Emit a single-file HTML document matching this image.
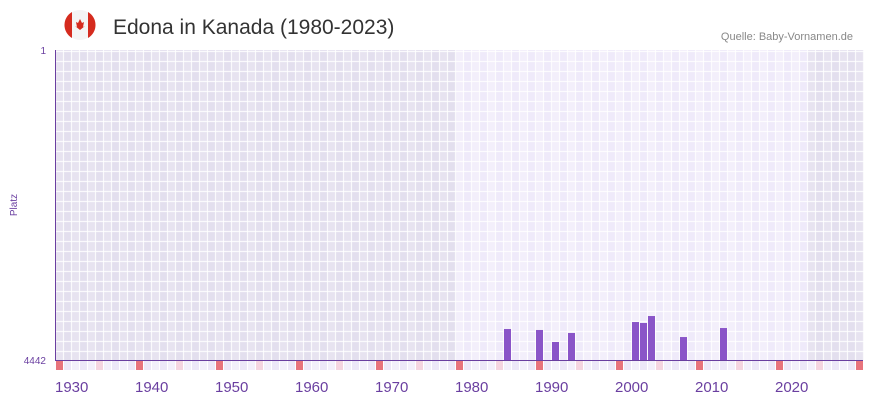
<!DOCTYPE html>
<html><head><meta charset="utf-8"><style>
body{margin:0;background:#fff;font-family:"Liberation Sans",sans-serif}
svg{display:block}
</style></head><body>
<svg width="873" height="402" id="c">
<g>
<circle cx="80" cy="25" r="15" fill="#f4f4f4"/>
<path d="M72 12 A15 15 0 0 0 72 38 Z" fill="#d52b1e"/>
<path d="M88 12 A15 15 0 0 1 88 38 Z" fill="#d52b1e"/>
<path d="M80 19 l2 4 2-1-1 5 2-1 -5 4 -5-4 2 1 -1-5 2 1z" fill="#d52b1e"/>
</g>
<text x="113" y="34" font-size="21" fill="#333">Edona in Kanada (1980-2023)</text>
<text x="853" y="40" font-size="11" fill="#888" text-anchor="end">Quelle: Baby-Vornamen.de</text>
<text transform="translate(17,205) rotate(-90)" font-size="10" fill="#6a3fa0" text-anchor="middle">Platz</text>
<g id="bg"></g><g id="grid"></g><g id="strip"></g><g id="bars"></g><g id="xt"></g>
<line x1="55.5" y1="50" x2="55.5" y2="360" stroke="#6a3fa0"/>
<line x1="55" y1="360.5" x2="863" y2="360.5" stroke="#6a3fa0"/>
<text x="46" y="54" font-size="10" fill="#6a3fa0" text-anchor="end">1</text>
<text x="46" y="364" font-size="10" fill="#6a3fa0" text-anchor="end">4442</text>
</svg>
<script>
const years=[1986,1990,1992,1994,2002,2003,2004,2008,2013];
const ranks=[3998,4012,4184,4055,3898,3912,3812,4113,3984];
const tickYears=[1930,1940,1950,1960,1970,1980,1990,2000,2010,2020];
const yearStart=1930,yearEnd=2030,dataStart=1980,dataEnd=2023,rankMin=1,rankMax=4442;
const X0=56,CW=8,Y0=50,Y1=360;
const xs=y=>X0+(y-yearStart)*CW;
const ys=r=>Y0+(r-rankMin)/(rankMax-rankMin)*(Y1-Y0);
const NS='http://www.w3.org/2000/svg';
function mk(p,t,a){const e=document.createElementNS(NS,t);for(const k in a)e.setAttribute(k,a[k]);document.getElementById(p).appendChild(e);return e;}
for(let y=yearStart;y<=yearEnd;y++){
 const inData=y>=dataStart&&y<=dataEnd;
 const c=inData?((y%2)?'#efeafa':'#f3effb'):((y%2)?'#e3dfee':'#e7e3f0');
 const r=mk('bg','rect',{x:xs(y),y:Y0,width:CW,height:Y1-Y0,fill:c});
 
 
 let sc=(y%10===0)?'#e8747c':(y%5===0)?'#f5d5e0':((y%2)?'#ede8f8':'#f3f0fb');
 const s=mk('strip','rect',{x:xs(y),y:361,width:CW-1,height:9,fill:sc});
 
 
}
for(let y=yearStart;y<=yearEnd+1;y++){mk('grid','line',{x1:xs(y)-0.5,y1:Y0,x2:xs(y)-0.5,y2:Y1,stroke:'#fff','stroke-width':1.2,'stroke-opacity':0.8});}
for(let gy=Y0+1;gy<Y1;gy+=10){mk('grid','line',{x1:X0,y1:gy+0.5,x2:864,y2:gy+0.5,stroke:'#fff','stroke-width':1.2,'stroke-opacity':0.8});}
years.forEach((y,i)=>{
 const t=ys(ranks[i]);
 const b=mk('bars','rect',{x:xs(y),y:t,width:CW-1,height:Y1-t,fill:'#8a55c8'});
 
 
});
tickYears.forEach(y=>{
 const t=mk('xt','text',{x:xs(y)-1,y:392,'font-size':15,fill:'#6a3fa0'});
 t.textContent=y;
 
 
});
</script>
</body></html>
